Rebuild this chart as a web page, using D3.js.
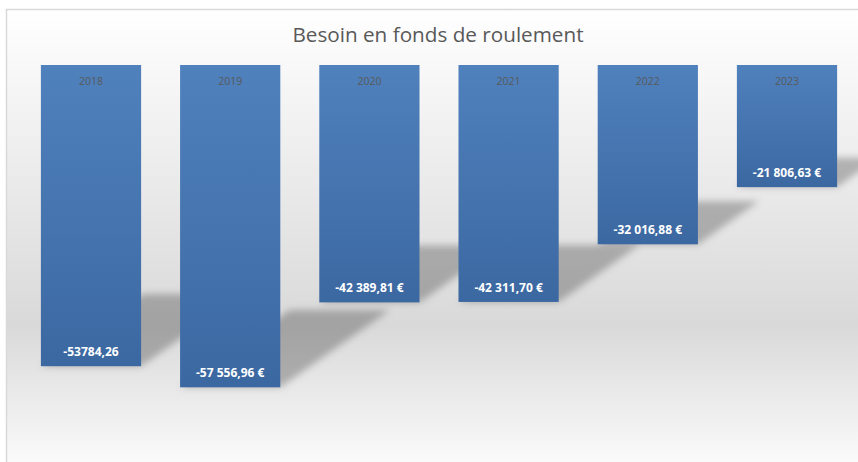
<!DOCTYPE html>
<html>
<head>
<meta charset="utf-8">
<script src="https://cdn.jsdelivr.net/npm/d3@7"></script>
<style>
  html, body { margin: 0; padding: 0; background: #fff; }
  svg { display: block; }
</style>
</head>
<body>
<div id="chart"></div>
<script>
// Besoin en fonds de roulement, per year (EUR)
const years = ["2018", "2019", "2020", "2021", "2022", "2023"]
const values = [-53784.26, -57556.96, -42389.81, -42311.70, -32016.88, -21806.63]
// labels as shown on the original sheet (2018 has no currency format)
const valueLabels = ["-53784,26", "-57 556,96 €", "-42 389,81 €", "-42 311,70 €", "-32 016,88 €", "-21 806,63 €"]
const title = "Besoin en fonds de roulement"

const W = 858, H = 462

const svg = d3.select("#chart")
  .append("svg")
  .attr("width", W)
  .attr("height", H)

const defs = svg.append("defs")

// chart area background: white -> grey -> white
const bg = defs.append("linearGradient")
  .attr("id", "bgGrad")
  .attr("x1", 0).attr("y1", 0).attr("x2", 0).attr("y2", 1)
bg.append("stop").attr("offset", "0%").attr("stop-color", "#ffffff")
bg.append("stop").attr("offset", "67%").attr("stop-color", "#d9d9d9")
bg.append("stop").attr("offset", "100%").attr("stop-color", "#ffffff")

const barGrad = defs.append("linearGradient")
  .attr("id", "barGrad")
  .attr("x1", 0).attr("y1", 0).attr("x2", 0).attr("y2", 1)
barGrad.append("stop").attr("offset", "0%").attr("stop-color", "#4f81bd")
barGrad.append("stop").attr("offset", "100%").attr("stop-color", "#3c68a1")

defs.append("filter")
  .attr("id", "blur")
  .attr("x", "-20%").attr("y", "-20%").attr("width", "140%").attr("height", "140%")
  .append("feGaussianBlur")
  .attr("stdDeviation", 3.5)

svg.append("rect")
  .attr("x", 6.5)
  .attr("y", 9.5)
  .attr("width", W + 20)
  .attr("height", H + 10)
  .attr("fill", "url(#bgGrad)")
  .attr("stroke", "#d9d9d9")
  .attr("stroke-width", 1.5)

svg.append("text")
  .attr("x", 438)
  .attr("y", 42)
  .attr("text-anchor", "middle")
  .attr("font-family", "'Open Sans', sans-serif")
  .attr("font-size", "20.7px")
  .attr("fill", "#595959")
  .text(title)

const x = d3.scaleBand()
  .domain(years)
  .range([21.4, 856.6])
  .paddingInner(0.28)
  .paddingOuter(0.14)

const y = d3.scaleLinear()
  .domain([-60000, 0])
  .range([401, 65])

const data = years.map((yr, i) => ({ year: yr, value: values[i], label: valueLabels[i] }))

// perspective shadow, cast up and to the right from the bottom of each bar
const shadowPts = d => {
  const x0 = x(d.year), x1 = x0 + x.bandwidth()
  const yb = y(d.value), h = yb - y(0)
  const dx = 0.34 * h, dy = 0.24 * h
  return [[x0, yb], [x1, yb], [x1 + dx, yb - dy], [x0 + dx, yb - dy]]
}

svg.append("g")
  .attr("filter", "url(#blur)")
  .selectAll("polygon")
  .data(data)
  .enter()
  .append("polygon")
  .attr("points", d => shadowPts(d).map(p => p.join(",")).join(" "))
  .attr("fill", "#000")
  .attr("fill-opacity", 0.25)

svg.selectAll(".bar")
  .data(data)
  .enter()
  .append("rect")
  .attr("class", "bar")
  .attr("x", d => x(d.year))
  .attr("y", y(0))
  .attr("width", x.bandwidth())
  .attr("height", d => y(d.value) - y(0))
  .attr("fill", "url(#barGrad)")

// category names sit inside the top of the bars
svg.selectAll(".cat")
  .data(data)
  .enter()
  .append("text")
  .attr("class", "cat")
  .attr("x", d => x(d.year) + x.bandwidth() / 2)
  .attr("y", y(0) + 19.5)
  .attr("text-anchor", "middle")
  .attr("font-family", "'Open Sans', sans-serif")
  .attr("font-size", "10.5px")
  .attr("fill", "#595959")
  .text(d => d.year)

svg.selectAll(".val")
  .data(data)
  .enter()
  .append("text")
  .attr("class", "val")
  .attr("x", d => x(d.year) + x.bandwidth() / 2)
  .attr("y", d => y(d.value) - 10)
  .attr("text-anchor", "middle")
  .attr("font-family", "'Open Sans', sans-serif")
  .attr("font-weight", "bold")
  .attr("font-size", "12px")
  .attr("fill", "#ffffff")
  .text(d => d.label)
</script>
</body>
</html>
